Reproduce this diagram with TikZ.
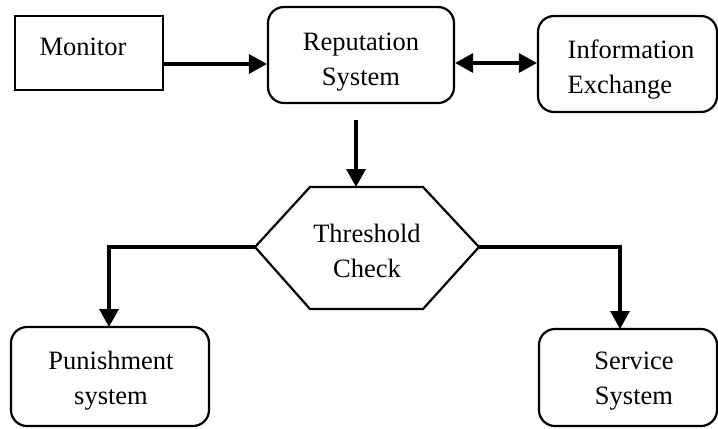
\documentclass[tikz,border=0pt]{standalone}
\usepackage{fontspec}
\setmainfont{Liberation Serif}
\usetikzlibrary{arrows.meta}
\begin{document}
\begin{tikzpicture}[x=1bp,y=-1bp,
  txt/.style={inner sep=0pt, align=center, font=\fontsize{26.5bp}{35bp}\selectfont},
  box/.style={draw, line width=2.2bp, inner sep=0pt},
  rbox/.style={box, rounded corners=16bp},
  arrow/.style={line width=3.2bp, -{Triangle[length=18bp,width=19bp]}},
  darrow/.style={line width=3.2bp, {Triangle[length=18bp,width=19bp]}-{Triangle[length=18bp,width=19bp]}}]
\useasboundingbox (0,0) rectangle (718,428);
% boxes
\node[box, minimum width=148bp, minimum height=74bp] (mon) at (89,53) {};
\node[txt] (monT) at (83,47) {Monitor};
\node[rbox, minimum width=186bp, minimum height=96bp] (rep) at (361,55) {};
\node[txt] (repT) at (361,62) {Reputation\\System};
\node[rbox, minimum width=179bp, minimum height=96bp] (info) at (627.5,64) {};
\node[txt, align=left] (infoT) at (631,70) {Information\\Exchange};
\node[rbox, minimum width=198bp, minimum height=99bp] (pun) at (110,376.5) {};
\node[txt] (punT) at (111,381) {Punishment\\system};
\node[rbox, minimum width=178bp, minimum height=97bp] (srv) at (628,377.5) {};
\node[txt] (srvT) at (634,381) {Service\\System};
% hexagon
\coordinate (hexT) at (356,187);
\coordinate (hexL) at (255,247);
\coordinate (hexR) at (479,247);
\draw[line width=2.2bp, line join=miter] (310,187) -- (423,187) -- (hexR) -- (423,309) -- (310,309) -- (hexL) -- cycle;
\node[txt] (chk) at (367,251) {Threshold\\Check};
% connectors
\coordinate (repOut) at (356,120);
\coordinate (punIn) at (109,327);
\coordinate (srvIn) at (620,329);
\draw[arrow] (mon.east |- 0,64) -- (rep.west |- 0,64);
\draw[darrow] (rep.east |- 0,63) -- (info.west |- 0,63);
\draw[arrow] (repOut) -- (hexT);
\draw[arrow] (hexL) -| (punIn);
\draw[arrow] (hexR) -| (srvIn);
\end{tikzpicture}
\end{document}
